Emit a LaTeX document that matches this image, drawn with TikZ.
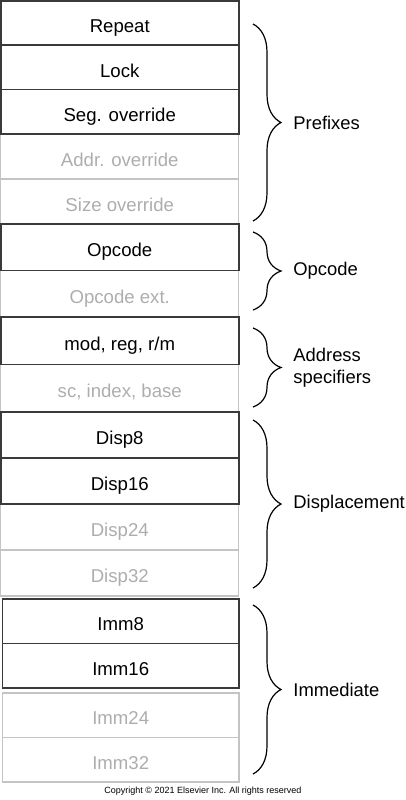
\documentclass[tikz,border=0pt]{standalone}
\usepackage{fontspec}
\setmainfont{Liberation Sans}
\usetikzlibrary{decorations.pathreplacing}

\definecolor{boxline}{HTML}{3A3A3A}
\definecolor{optline}{HTML}{C4C4C4}
\definecolor{opttext}{HTML}{ADADAD}

\tikzset{
    fld/.style={draw=boxline, line width=0.8pt, anchor=north west, outer sep=0pt, inner sep=0pt,
        minimum width=119pt, minimum height=#1*0.5pt, text height=9.6pt, text depth=0pt,
        font=\fontsize{9.3}{11}\selectfont},
    opt/.style={fld=#1, draw=optline, line width=0.6pt, text=opttext},
    brc/.style={decorate, decoration={brace, amplitude=14pt}, line width=0.6pt},
    grp/.style={anchor=west, inner sep=0pt, align=left, font=\fontsize{9.2}{10.8}\selectfont},
}

\begin{document}
\begin{tikzpicture}[x=0.5pt, y=-0.5pt]
    \useasboundingbox (0,0) rectangle (406,800);

    % optional fields first, so the dark lines stay on top
    \node[opt=45]   (addr) at (0.75,134)   {Addr. override};
    \node[opt=45]   (size) at (0.75,179)   {Size override};
    \node[opt=46.5] (opx)  at (0.75,270.5) {Opcode ext.};
    \node[opt=47.5] (sc)   at (0.75,364.5) {sc, index, base};
    \node[opt=46]   (d24)  at (0.75,504)   {Disp24};
    \node[opt=46]   (d32)  at (0.75,550)   {Disp32};
    \node[opt=44.5, minimum width=118.2pt] (i24) at (2.5,693)   {Imm24};
    \node[opt=44.5, minimum width=118.2pt] (i32) at (2.5,737.5) {Imm32};

    \node[fld=44.4] (rep)  at (0.75,0.75)  {Repeat};
    \node[fld=44.4] (lock) at (0.75,45.2)  {Lock};
    \node[fld=44.4] (seg)  at (0.75,89.6)  {Seg. override};
    \node[fld=46.5] (opc)  at (0.75,224)   {Opcode};
    \node[fld=47.5] (mod)  at (0.75,317)   {mod, reg, r/m};
    \node[fld=46]   (d8)   at (0.75,412)   {Disp8};
    \node[fld=46]   (d16)  at (0.75,458)   {Disp16};
    \node[fld=44.5, minimum width=118.2pt] (i8)  at (2.5,599)   {Imm8};
    \node[fld=44.5, minimum width=118.2pt] (i16) at (2.5,643.5) {Imm16};

    \draw[brc] (253,24)  -- (253,221);
    \draw[brc] (253,232) -- (253,310);
    \draw[brc] (253,328) -- (253,407);
    \draw[brc] (253,420) -- (253,588);
    \draw[brc] (253,605) -- (253,774);

    \node[grp] (pre)  at (293,122.5) {Prefixes};
    \node[grp] (op)   at (293,271)   {Opcode};
    \node[grp] (adr)  at (293,368)   {Address\\specifiers};
    \node[grp] (disp) at (293,504)   {Displacement};
    \node[grp] (imm)  at (293,689.5) {Immediate};

    \node[inner sep=0pt, font=\fontsize{4.5}{5}\selectfont] (copy) at (203,791.5)
        {Copyright © 2021 Elsevier Inc. All rights reserved};
\end{tikzpicture}
\end{document}
